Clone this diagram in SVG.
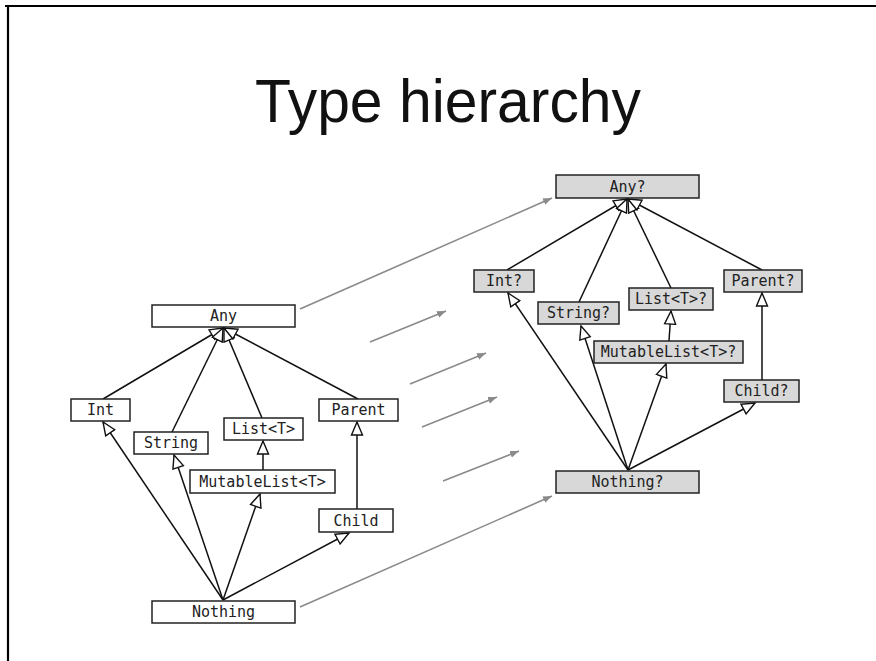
<svg xmlns="http://www.w3.org/2000/svg" width="876" height="661" viewBox="0 0 876 661">
<style>
.box{fill:#fff;stroke:#222;stroke-width:1.5}
.gbox{fill:#d8d8d8;stroke:#222;stroke-width:1.5}
.lbl{font-family:"DejaVu Sans Mono",monospace;font-size:15px;fill:#222;text-anchor:middle}
.e{stroke:#111;stroke-width:1.5;fill:none;marker-end:url(#tri)}
.g{stroke:#8a8a8a;stroke-width:1.6;fill:none;marker-end:url(#ga)}
</style>
<defs>
<marker id="tri" markerUnits="userSpaceOnUse" markerWidth="16" markerHeight="14" viewBox="0 0 16 14" refX="14" refY="7" orient="auto">
<path d="M1,1.5 L14,7 L1,12.5 Z" fill="#fff" stroke="#111" stroke-width="1.4"/>
</marker>
<marker id="ga" markerUnits="userSpaceOnUse" markerWidth="10" markerHeight="8" viewBox="0 0 10 8" refX="9" refY="4" orient="auto">
<path d="M0,0.5 L9,4 L0,7.5 Z" fill="#8a8a8a"/>
</marker>
</defs>
<rect width="876" height="661" fill="#fff"/>
<path d="M5,6 H876 M8,6 V661" stroke="#000" stroke-width="2.2" fill="none"/>
<text x="448" y="122" font-family="Liberation Sans, Arial, sans-serif" font-size="61" fill="#111" text-anchor="middle" textLength="386" lengthAdjust="spacingAndGlyphs">Type hierarchy</text>

<g id="connectors">
<line class="e" x1="103" y1="399" x2="223" y2="328"/>
<line class="e" x1="172" y1="432" x2="223" y2="328"/>
<line class="e" x1="262" y1="418" x2="224" y2="328"/>
<line class="e" x1="358" y1="399" x2="224" y2="328"/>
<line class="e" x1="223" y1="600" x2="103" y2="422"/>
<line class="e" x1="223" y1="600" x2="174" y2="455"/>
<line class="e" x1="223" y1="600" x2="260" y2="494"/>
<line class="e" x1="223" y1="600" x2="349" y2="533"/>
<line class="e" x1="263" y1="470" x2="263" y2="441"/>
<line class="e" x1="357" y1="509" x2="357" y2="422"/>

<line class="e" x1="507" y1="270" x2="627" y2="199"/>
<line class="e" x1="579" y1="302" x2="627" y2="199"/>
<line class="e" x1="671" y1="288" x2="628" y2="199"/>
<line class="e" x1="762" y1="270" x2="628" y2="199"/>
<line class="e" x1="628" y1="470" x2="508" y2="293"/>
<line class="e" x1="628" y1="470" x2="581" y2="326"/>
<line class="e" x1="628" y1="470" x2="666" y2="364"/>
<line class="e" x1="628" y1="470" x2="755" y2="403"/>
<line class="e" x1="669" y1="341" x2="671" y2="311"/>
<line class="e" x1="762" y1="380" x2="762" y2="293"/>

<line class="g" x1="300" y1="309" x2="552" y2="198"/>
<line class="g" x1="370" y1="342" x2="446" y2="311"/>
<line class="g" x1="410" y1="384" x2="486" y2="353"/>
<line class="g" x1="422" y1="427" x2="497" y2="397"/>
<line class="g" x1="443" y1="481" x2="519" y2="451"/>
<line class="g" x1="300" y1="607" x2="552" y2="496"/>
</g>

<g id="any"><rect class="box" x="152" y="305" width="143" height="22"/><text class="lbl" x="223.5" y="321">Any</text></g>
<g id="int"><rect class="box" x="71" y="399" width="59" height="22"/><text class="lbl" x="100.5" y="415">Int</text></g>
<g id="string"><rect class="box" x="134" y="432" width="74" height="22"/><text class="lbl" x="171" y="448">String</text></g>
<g id="list"><rect class="box" x="224" y="418" width="79" height="22"/><text class="lbl" x="263.5" y="434">List&lt;T&gt;</text></g>
<g id="parent"><rect class="box" x="319" y="399" width="79" height="22"/><text class="lbl" x="358.5" y="415">Parent</text></g>
<g id="mutablelist"><rect class="box" x="190" y="470" width="145" height="23"/><text class="lbl" x="262.5" y="487">MutableList&lt;T&gt;</text></g>
<g id="child"><rect class="box" x="319" y="509" width="74" height="23"/><text class="lbl" x="356" y="526">Child</text></g>
<g id="nothing"><rect class="box" x="152" y="601" width="143" height="22"/><text class="lbl" x="223.5" y="617">Nothing</text></g>

<g id="any-n"><rect class="gbox" x="556" y="175" width="143" height="23"/><text class="lbl" x="627.5" y="192">Any?</text></g>
<g id="int-n"><rect class="gbox" x="474" y="270" width="60" height="22"/><text class="lbl" x="504" y="286">Int?</text></g>
<g id="string-n"><rect class="gbox" x="538" y="302" width="81" height="22"/><text class="lbl" x="578.5" y="318">String?</text></g>
<g id="list-n"><rect class="gbox" x="629" y="288" width="84" height="22"/><text class="lbl" x="671" y="304">List&lt;T&gt;?</text></g>
<g id="parent-n"><rect class="gbox" x="724" y="270" width="78" height="22"/><text class="lbl" x="763" y="286">Parent?</text></g>
<g id="mutablelist-n"><rect class="gbox" x="594" y="341" width="149" height="22"/><text class="lbl" x="668.5" y="357">MutableList&lt;T&gt;?</text></g>
<g id="child-n"><rect class="gbox" x="724" y="380" width="75" height="22"/><text class="lbl" x="761.5" y="396">Child?</text></g>
<g id="nothing-n"><rect class="gbox" x="556" y="471" width="143" height="22"/><text class="lbl" x="627.5" y="487">Nothing?</text></g>
</svg>
